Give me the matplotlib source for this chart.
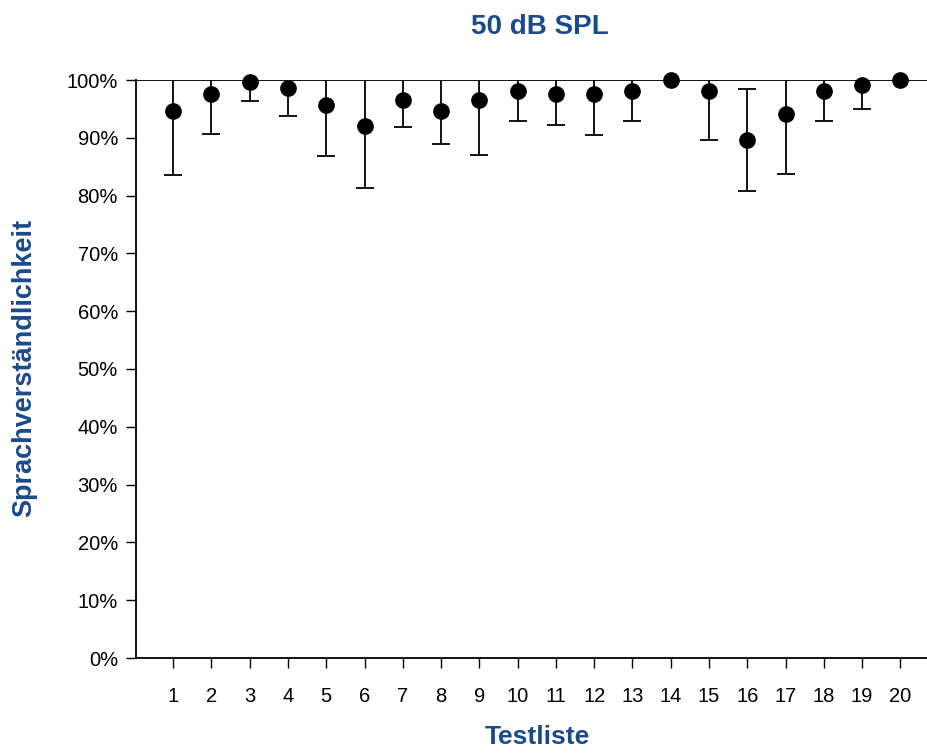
import numpy as np
import matplotlib.pyplot as plt

plt.rcParams["font.family"] = ["Liberation Sans", "DejaVu Sans"]

# ===================== 数据 =====================
testliste = list(range(1, 21))
mittelwert = [94.6, 97.6, 99.6, 98.6, 95.6, 92.1, 96.6, 94.6, 96.6, 98.1,
              97.6, 97.6, 98.1, 100.0, 98.1, 89.6, 94.1, 98.1, 99.1, 100.0]
fehler = [11.1, 7.0, 3.3, 4.85, 8.8, 10.8, 4.8, 5.7, 9.6, 5.2,
          5.3, 7.1, 5.2, 0.0, 8.4, 8.8, 10.4, 5.2, 4.2, 0.0]
y_ticks = list(range(0, 101, 10))
y_ticklabels = [f"{v}%" for v in y_ticks]

BLAU = "#1B4A8C"

fig = plt.figure(figsize=(9.28, 7.53), dpi=100)
ax = fig.add_axes([136 / 928, 1 - 658 / 753, (928 - 136) / 928, (658 - 80) / 753])

# Fehlerbalken (oben an 100 % abgeschnitten)
ax.errorbar(
    testliste, mittelwert, yerr=fehler,
    fmt="none", ecolor="black", elinewidth=1.3,
    capsize=6.5, capthick=1.3, zorder=2,
)
ax.plot(
    testliste, mittelwert, "o", color="black",
    markersize=11, clip_on=False, zorder=3,
)

ax.axhline(100, color="black", lw=1.3, zorder=1)

ax.set_xlim(0.03, 20.72)
ax.set_ylim(0, 100)
ax.set_xticks(testliste)
ax.set_xticklabels([str(t) for t in testliste], fontsize=14.5)
ax.set_yticks(y_ticks)
ax.set_yticklabels(y_ticklabels, fontsize=14.5)

ax.spines["top"].set_visible(False)
ax.spines["right"].set_visible(False)
ax.spines["left"].set_linewidth(1.3)
ax.spines["bottom"].set_linewidth(1.3)
ax.tick_params(axis="both", direction="out", length=7, width=1.0, pad=6)
ax.tick_params(axis="x", pad=14)

fig.text(540 / 928, 1 - 27 / 753, "50 dB SPL", ha="center", va="center",
         fontsize=20, fontweight="bold", color=BLAU)
fig.text(537 / 928, 1 - 737 / 753, "Testliste", ha="center", va="center",
         fontsize=19, fontweight="bold", color=BLAU)
fig.text(24 / 928, 1 - 368 / 753, "Sprachverständlichkeit", ha="center", va="center",
         rotation=90, fontsize=19.5, fontweight="bold", color=BLAU)

fig.savefig("out.png", dpi=100)
